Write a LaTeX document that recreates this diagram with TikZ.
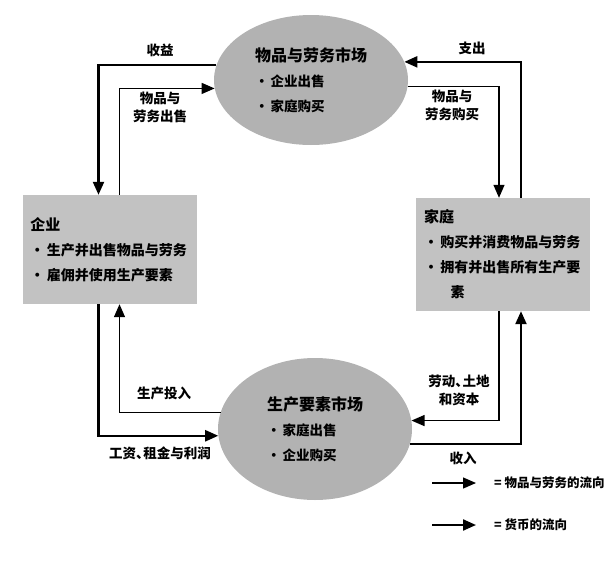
\documentclass[tikz,border=0pt]{standalone}
\usepackage{fontspec}
\setmainfont{Noto Sans CJK SC}
\usepackage{tikz}
\usetikzlibrary{shapes.geometric, arrows.meta, positioning}
\tikzstyle{money} = [line width=2.2pt,-{Triangle[length=13pt,width=11pt]}]
\tikzstyle{goods} = [line width=1.3pt,-{Triangle[length=13pt,width=11pt]}]
\tikzset{every node/.style={align=center}}
\newcommand{\dun}{、\kern-0.45em}

\begin{document}
\begin{tikzpicture}[x=1pt, y=-1pt,
    market/.style={ellipse, fill=black!30, inner sep=0pt, align=left,
                   minimum width=194pt, font=\bfseries\fontsize{13.5}{25}\selectfont},
    agent/.style={rectangle, fill=black!24, inner xsep=8pt, inner ysep=0pt, align=left,
                  text width=158pt, font=\bfseries\fontsize{14}{25}\selectfont},
    flow/.style={font=\bfseries\fontsize{13.5}{18}\selectfont, inner sep=1pt},
    legend/.style={font=\bfseries\fontsize{12.5}{14}\selectfont, inner sep=0pt, anchor=west}
]
  \useasboundingbox (0,0) rectangle (606,563);

  % --- markets ---
  \node[market, minimum height=130pt] (gsmkt) at (311,80)
       {{\fontsize{16}{25}\selectfont 物品与劳务市场}\\ ·\,企业出售\\ ·\,家庭购买};
  \node[market, minimum height=142pt] (fmkt) at (315,429)
       {{\fontsize{16}{25}\selectfont 生产要素市场}\\ ·\,家庭出售\\ ·\,企业购买};

  % --- firms and households ---
  \node[agent, minimum height=109pt] (firms) at (109.5,249.5)
       {{\fontsize{15}{25}\selectfont 企业}\\ ·\,生产并出售物品与劳务\\ ·\,雇佣并使用生产要素};
  \node[agent, minimum height=113pt] (hh) at (503,254.5)
       {{\fontsize{15}{25}\selectfont 家庭}\\ ·\,购买并消费物品与劳务\\ ·\,拥有并出售所有生产要\\ \hspace*{1.9em}素};

  % --- upper loop ---
  \draw[money] (gsmkt.171) -| ([xshift=-11pt]firms.north);
  \draw[goods] ([xshift=10pt]firms.north) |- (gsmkt.185);
  \draw[money] ([xshift=18pt]hh.north) |- (gsmkt.11);
  \draw[goods] (gsmkt.356) -| ([xshift=-4pt]hh.north);
  \node[flow] (lrev)   at (160,50)  {收益};
  \node[flow] (lsell)  at (160,107) {物品与\\劳务出售};
  \node[flow] (lspend) at (472,48)  {支出};
  \node[flow] (lbuy)   at (452,105) {物品与\\劳务购买};

  % --- lower loop ---
  \draw[goods] (fmkt.170) -| ([xshift=10pt]firms.south);
  \draw[money] ([xshift=-11pt]firms.south) |- (fmkt.184);
  \draw[goods] ([xshift=-4pt]hh.south) |- (fmkt.5);
  \draw[money] (fmkt.351) -| ([xshift=18pt]hh.south);
  \node[flow] (linput)  at (164,393) {生产投入};
  \node[flow] (lwage)   at (160,453) {工资\dun 租金与利润};
  \node[flow] (lfactor) at (459,390) {劳动\dun 土地\\和资本};
  \node[flow] (lincome) at (463,458) {收入};

  % --- legend ---
  \coordinate (lg1) at (432,483);
  \coordinate (lg2) at (432,525);
  \node[legend] (lgt1) at (494,483) {= 物品与劳务的流向};
  \node[legend] (lgt2) at (494,525) {= 货币的流向};
  \draw[goods] (lg1) -- ([xshift=-18pt]lgt1.west);
  \draw[money] (lg2) -- ([xshift=-18pt]lgt2.west);
\end{tikzpicture}
\end{document}
